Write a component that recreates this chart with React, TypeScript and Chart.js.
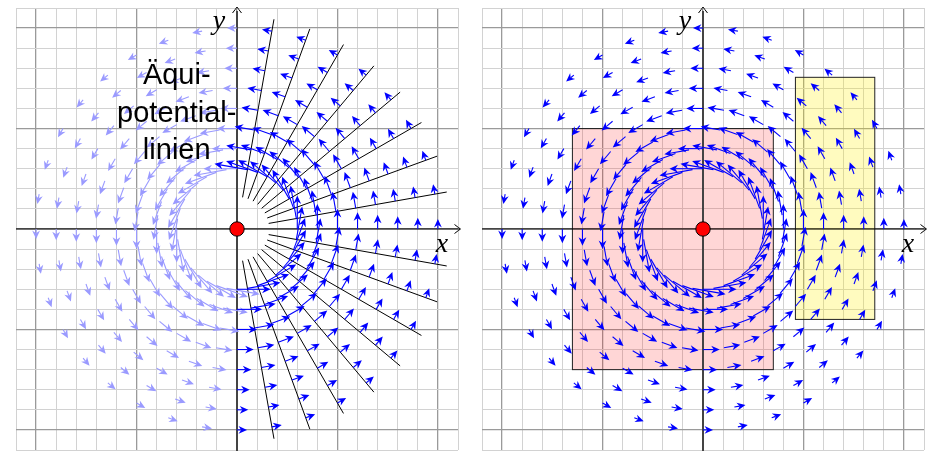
import React, { useEffect, useRef } from "react";
import { Chart, registerables } from "chart.js";

Chart.register(...registerables);

// ---------- data ----------
const axisRange = [-11, 11];
const ringRadii = [3, 4, 5, 6, 7, 8, 9, 10];
const arrowLengths = [1.67, 1.25, 1.0, 0.83, 0.71, 0.63, 0.56, 0.5];
const frontAngles = [-90, -80, -70, -60, -50, -40, -30, -20, -10, 0, 10, 20, 30, 40, 50, 60, 70, 80];
const backAngles = [90, 100, 110, 120, 130, 140, 150, 160, 170, 180, 190, 200, 210, 220, 230, 240, 250, 260];
const equipotentialAngles = [-80, -70, -60, -50, -40, -30, -20, -10, 10, 20, 30, 40, 50, 60, 70, 80];
const equipotentialRadii = [1.6, 10.6];
const pinkRectX = [-6.5, 3.5];
const pinkRectY = [-7, 5];
const yellowRectX = [4.6, 8.55];
const yellowRectY = [-4.5, 7.55];
const labelLines = ["Äqui-", "potential-", "linien"];

const DARK = "#0000ff";
const LIGHT = "#9a9aff";

type ArrowPt = { x: number; y: number; dx: number; dy: number };

function buildField(angles: number[]): ArrowPt[] {
  const pts: ArrowPt[] = [];
  ringRadii.forEach((r, i) => {
    const L = arrowLengths[i];
    angles.forEach((a) => {
      const t = (a * Math.PI) / 180;
      pts.push({ x: r * Math.cos(t), y: r * Math.sin(t), dx: -L * Math.sin(t), dy: L * Math.cos(t) });
    });
  });
  return pts;
}

function drawArrow(ctx: CanvasRenderingContext2D, x0: number, y0: number, x1: number, y1: number, color: string) {
  const dx = x1 - x0, dy = y1 - y0;
  const len = Math.hypot(dx, dy);
  if (len < 0.5) return;
  const ux = dx / len, uy = dy / len;
  const headLen = 8.5, halfW = 3.9, notch = 2.6;
  const bx = x1 - ux * headLen, by = y1 - uy * headLen;
  const nx = x1 - ux * (headLen - notch), ny = y1 - uy * (headLen - notch);
  ctx.strokeStyle = color;
  ctx.lineWidth = 1.1;
  ctx.beginPath();
  ctx.moveTo(x0, y0);
  ctx.lineTo(nx, ny);
  ctx.stroke();
  ctx.fillStyle = color;
  ctx.beginPath();
  ctx.moveTo(x1, y1);
  ctx.lineTo(bx - uy * halfW, by + ux * halfW);
  ctx.lineTo(nx, ny);
  ctx.lineTo(bx + uy * halfW, by - ux * halfW);
  ctx.closePath();
  ctx.fill();
}

function chevron(ctx: CanvasRenderingContext2D, tx: number, ty: number, ux: number, uy: number) {
  const back = 6, w = 4.5;
  ctx.strokeStyle = "#000";
  ctx.lineWidth = 1;
  ctx.beginPath();
  ctx.moveTo(tx - ux * back - uy * w, ty - uy * back + ux * w);
  ctx.quadraticCurveTo(tx - ux * 1.5 - uy * 1, ty - uy * 1.5 + ux * 1, tx, ty);
  ctx.quadraticCurveTo(tx - ux * 1.5 + uy * 1, ty - uy * 1.5 - ux * 1, tx - ux * back + uy * w, ty - uy * back - ux * w);
  ctx.stroke();
}

type PanelCfg = {
  padLeft: number;
  padRight: number;
  withLines: boolean;
  rects: { x: number[]; y: number[]; fill: string }[];
  backColor: string;
  showText: boolean;
};

function makePanel(canvas: HTMLCanvasElement, cfg: PanelCfg) {
  const datasets: any[] = [];
  if (cfg.withLines) {
    equipotentialAngles.forEach((a) => {
      const t = (a * Math.PI) / 180;
      datasets.push({
        label: "eq" + a,
        data: equipotentialRadii.map((r) => ({ x: r * Math.cos(t), y: r * Math.sin(t) })),
        showLine: true,
        borderColor: "#000",
        borderWidth: 1,
        pointRadius: 0,
      });
    });
  }
  datasets.push({ label: "back", data: buildField(backAngles), pointRadius: 0, showLine: false, arrowColor: cfg.backColor });
  datasets.push({ label: "front", data: buildField(frontAngles), pointRadius: 0, showLine: false, arrowColor: DARK });

  const gridColor = (c: any) => {
    const v = c.tick ? c.tick.value : 0;
    return v % 5 === 0 && Math.abs(v) !== 0 ? "#9a9a9a" : v === 0 ? "#8a8a8a" : "#d2d2d2";
  };
  const gridWidth = (c: any) => {
    const v = c.tick ? c.tick.value : 0;
    return v % 5 === 0 ? 1.3 : 1;
  };

  const plugin = {
    id: "fieldPlugin",
    beforeDatasetsDraw(chart: any) {
      const ctx = chart.ctx as CanvasRenderingContext2D;
      const xs = chart.scales.x, ys = chart.scales.y;
      ctx.save();
      cfg.rects.forEach((r) => {
        const x0 = xs.getPixelForValue(r.x[0]), x1 = xs.getPixelForValue(r.x[1]);
        const y0 = ys.getPixelForValue(r.y[1]), y1 = ys.getPixelForValue(r.y[0]);
        ctx.fillStyle = r.fill;
        ctx.fillRect(x0, y0, x1 - x0, y1 - y0);
        ctx.strokeStyle = "#222";
        ctx.lineWidth = 1;
        ctx.strokeRect(x0, y0, x1 - x0, y1 - y0);
      });
      const ox = xs.getPixelForValue(0), oy = ys.getPixelForValue(0);
      const xl = xs.getPixelForValue(axisRange[0]), xr = xs.getPixelForValue(axisRange[1]);
      const yt = ys.getPixelForValue(axisRange[1]), yb = ys.getPixelForValue(axisRange[0]);
      ctx.strokeStyle = "#444";
      ctx.lineWidth = 2;
      ctx.beginPath();
      ctx.moveTo(ox, yb + 2);
      ctx.lineTo(ox, yt + 3);
      ctx.stroke();
      ctx.strokeStyle = "#000";
      ctx.lineWidth = 1.1;
      ctx.beginPath();
      ctx.moveTo(xl, oy);
      ctx.lineTo(xr + 2, oy);
      ctx.stroke();
      ctx.restore();
    },
    afterDatasetsDraw(chart: any) {
      const ctx = chart.ctx as CanvasRenderingContext2D;
      const xs = chart.scales.x, ys = chart.scales.y;
      ctx.save();
      chart.data.datasets.forEach((ds: any, i: number) => {
        if (!ds.arrowColor) return;
        const meta = chart.getDatasetMeta(i);
        ds.data.forEach((p: ArrowPt, j: number) => {
          const el = meta.data[j];
          const x1 = xs.getPixelForValue(p.x + p.dx);
          const y1 = ys.getPixelForValue(p.y + p.dy);
          drawArrow(ctx, el.x, el.y, x1, y1, ds.arrowColor);
        });
      });
      ctx.restore();
    },
    afterDraw(chart: any) {
      const ctx = chart.ctx as CanvasRenderingContext2D;
      const xs = chart.scales.x, ys = chart.scales.y;
      const ox = xs.getPixelForValue(0), oy = ys.getPixelForValue(0);
      const xr = xs.getPixelForValue(axisRange[1]);
      const yt = ys.getPixelForValue(axisRange[1]);
      ctx.save();
      chevron(ctx, xr + 2.5, oy, 1, 0);
      chevron(ctx, ox, yt - 1, 0, -1);
      ctx.beginPath();
      ctx.arc(ox, oy, 7.2, 0, Math.PI * 2);
      ctx.fillStyle = "#ff0000";
      ctx.fill();
      ctx.strokeStyle = "#000";
      ctx.lineWidth = 1;
      ctx.stroke();
      ctx.fillStyle = "#000";
      ctx.font = 'italic 28px "Liberation Serif"';
      ctx.textAlign = "center";
      ctx.textBaseline = "alphabetic";
      ctx.fillText("x", xr - 16, oy + 23);
      ctx.fillText("y", ox - 18, yt + 21);
      if (cfg.showText) {
        ctx.font = '29px "Liberation Sans"';
        const cx = xs.getPixelForValue(-3);
        labelLines.forEach((s, k) => {
          ctx.fillText(s, cx, ys.getPixelForValue(7.2 - k * 1.87));
        });
      }
      ctx.restore();
    },
  };

  return new Chart(canvas, {
    type: "scatter",
    data: { datasets },
    options: {
      responsive: false,
      animation: false,
      devicePixelRatio: 1,
      events: [],
      layout: { padding: { left: cfg.padLeft, right: cfg.padRight, top: 8, bottom: 1 } },
      plugins: { legend: { display: false }, tooltip: { enabled: false } },
      scales: {
        x: {
          type: "linear",
          min: axisRange[0],
          max: axisRange[1],
          ticks: { display: false, stepSize: 1, autoSkip: false },
          grid: { drawTicks: false, color: gridColor, lineWidth: gridWidth },
          border: { display: false },
        },
        y: {
          type: "linear",
          min: axisRange[0],
          max: axisRange[1],
          ticks: { display: false, stepSize: 1, autoSkip: false },
          grid: { drawTicks: false, color: gridColor, lineWidth: gridWidth },
          border: { display: false },
        },
      },
    } as any,
    plugins: [plugin],
  });
}

export default function App() {
  const leftRef = useRef<HTMLCanvasElement>(null);
  const rightRef = useRef<HTMLCanvasElement>(null);

  useEffect(() => {
    const c1 = makePanel(leftRef.current!, {
      padLeft: 16,
      padRight: 12,
      withLines: true,
      rects: [],
      backColor: LIGHT,
      showText: true,
    });
    const c2 = makePanel(rightRef.current!, {
      padLeft: 12,
      padRight: 4,
      withLines: false,
      rects: [
        { x: pinkRectX, y: pinkRectY, fill: "rgba(255,0,0,0.16)" },
        { x: yellowRectX, y: yellowRectY, fill: "rgba(255,238,0,0.25)" },
      ],
      backColor: DARK,
      showText: false,
    });
    return () => {
      c1.destroy();
      c2.destroy();
    };
  }, []);

  return (
    <div style={{ position: "absolute", left: 0, top: 0, width: 928, height: 451, background: "#fff", overflow: "hidden" }}>
      <canvas ref={leftRef} width={470} height={451} style={{ position: "absolute", left: 0, top: 0, width: 470, height: 451 }} />
      <canvas ref={rightRef} width={458} height={451} style={{ position: "absolute", left: 470, top: 0, width: 458, height: 451 }} />
    </div>
  );
}
